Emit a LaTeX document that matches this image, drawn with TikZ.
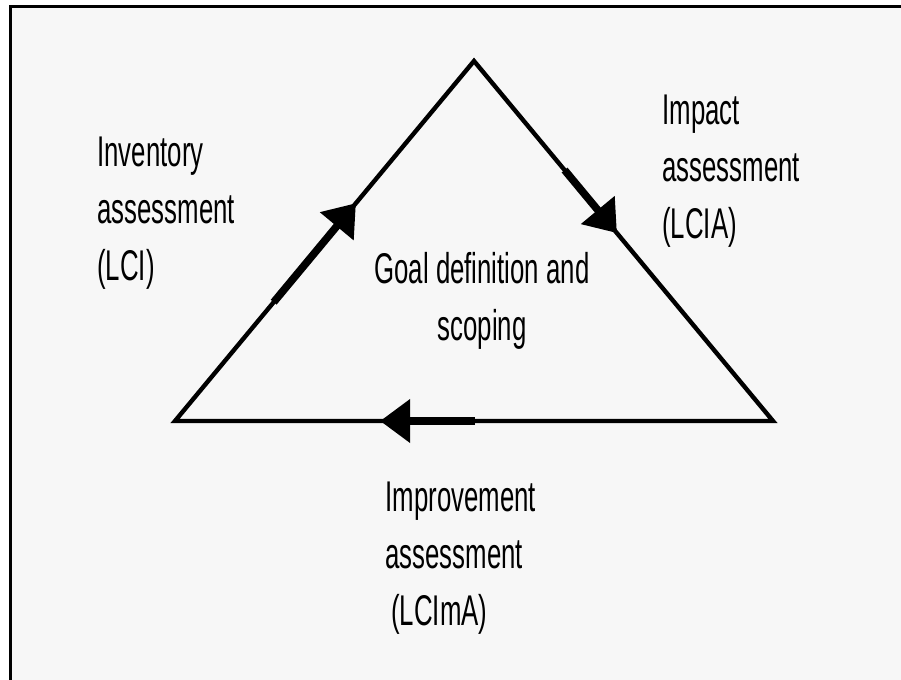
\documentclass[tikz,border=0pt]{standalone}
\usepackage{fontspec}
\setmainfont{Liberation Sans}[FakeStretch=0.6]
\usetikzlibrary{arrows.meta,calc}
\definecolor{paper}{RGB}{247,247,247}

\tikzset{
	lbl/.style={inner sep=0pt, align=left, font=\fontsize{21.5}{28.5}\selectfont},
	side/.style={line width=2.2pt},
	flow/.style={line width=3.8pt, -{Triangle[length=15pt,width=21pt]}},
}

\begin{document}
\begin{tikzpicture}[x=0.5pt,y=-0.5pt]
		\useasboundingbox (0,0) rectangle (901,680);
		\clip (0,0) rectangle (901,680);
		\fill[white] (0,0) rectangle (901,680);
		\draw[line width=1.5pt, fill=paper] (10.5,6.5) rectangle (930,700);
		% corners of the cycle
		\coordinate (top) at (474,61);
		\coordinate (bl) at (175,421);
		\coordinate (br) at (773,421);
		\draw[side] (top) -- (br) -- (bl) -- cycle;
		\draw[flow] ($(bl)!0.33!(top)$) -- ($(bl)!0.605!(top)$);
		\draw[flow] ($(top)!0.303!(br)$) -- ($(top)!0.478!(br)$);
		\draw[flow] ($(br)!0.498!(bl)$) -- ($(br)!0.657!(bl)$);
		% labels
		\node[lbl, anchor=north west] (lci) at (97,137) {Inventory\\assessment\\(LCI)};
		\node[lbl, anchor=north west] (lcia) at (662,95) {Impact\\assessment\\(LCIA)};
		\node[lbl, anchor=north west] (lcima) at (385,482) {Improvement\\assessment\\\hspace*{3pt}(LCImA)};
		\node[lbl, align=center, anchor=north] (goal) at (482,252) {Goal definition and\\scoping};
	\end{tikzpicture}
\end{document}
